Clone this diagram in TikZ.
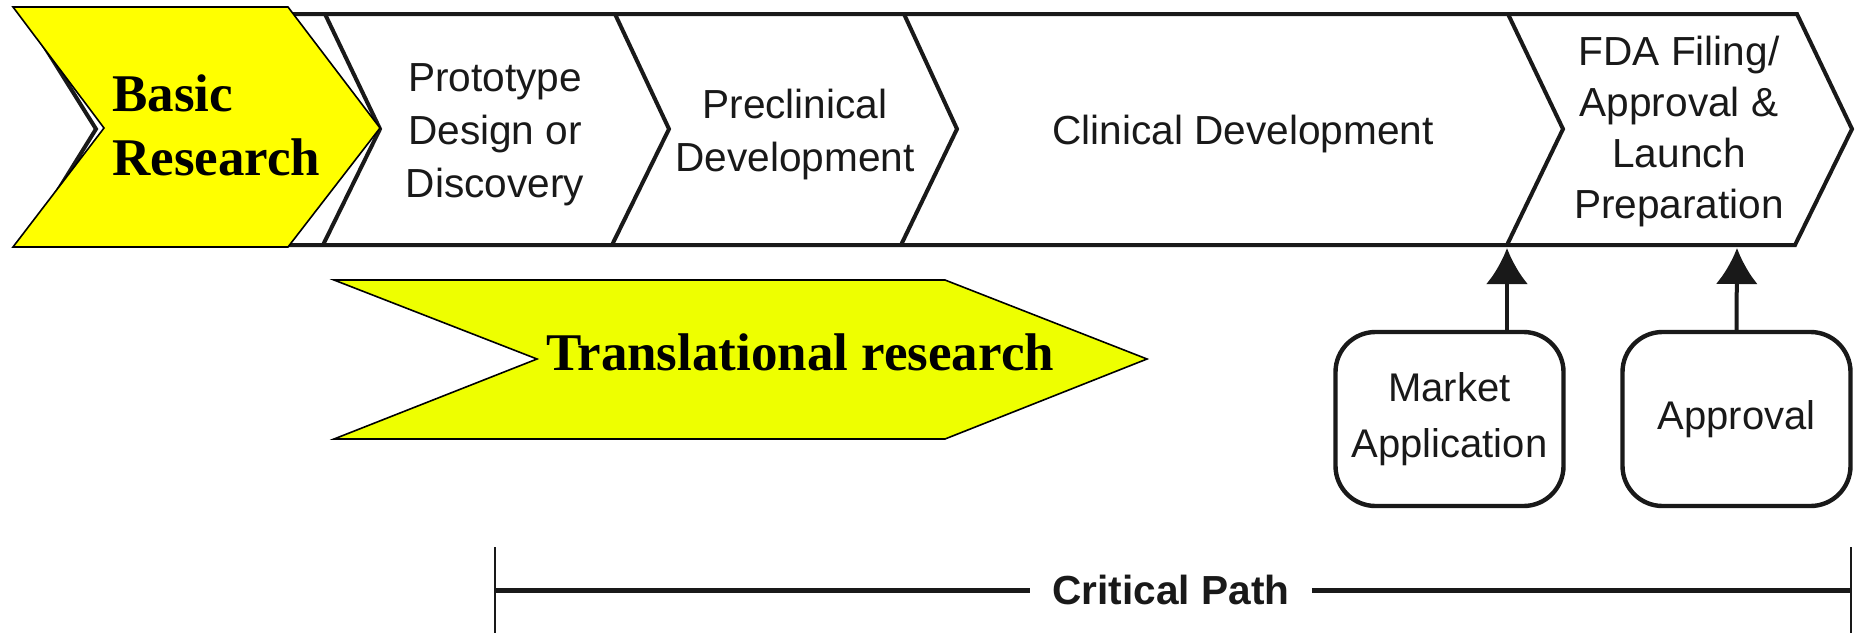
\documentclass[tikz,border=0pt]{standalone}
\usepackage{fontspec}
\setmainfont{Liberation Serif}
\newfontfamily\arialfont{Liberation Sans}
\usetikzlibrary{arrows.meta}
\definecolor{basicyellow}{RGB}{255,255,0}
\definecolor{transyellow}{RGB}{238,255,0}
\definecolor{ink}{gray}{0.1}

\begin{document}
\begin{tikzpicture}[x=0.5pt,y=-0.5pt,
  barline/.style={draw=ink, line width=2pt, line join=miter},
  yellowshape/.style={draw=black, line width=0.8pt, line join=miter},
  stagetext/.style={font=\arialfont\fontsize{20.3}{26.5}\selectfont, text=ink,
    align=center, inner sep=0pt},
  bigtext/.style={font=\bfseries\fontsize{26.5}{32}\selectfont, inner sep=0pt},
  eventbox/.style={draw=ink, line width=2.2pt, rounded corners=20pt,
    minimum width=114pt, minimum height=87pt, inner sep=0pt, align=center,
    font=\arialfont\fontsize{20}{28}\selectfont, text=ink},
  uparrow/.style={draw=ink, line width=2pt, -{Latex[length=18pt,width=21pt]}},
  tickline/.style={draw=ink, line width=1.2pt},
  pathline/.style={draw=ink, line width=2.5pt},
]
\useasboundingbox[fill=white] (0,0) rectangle (1858,633);

% chevron boundaries of the development bar (top, tip, bottom)
\coordinate (b0t) at (24,14);   \coordinate (b0m) at (96,129);   \coordinate (b0b) at (24,245);
\coordinate (b1t) at (325,14);  \coordinate (b1m) at (380,129);  \coordinate (b1b) at (323,245);
\coordinate (b2t) at (615,14);  \coordinate (b2m) at (669,129);  \coordinate (b2b) at (612,245);
\coordinate (b3t) at (904,14);  \coordinate (b3m) at (957,129);  \coordinate (b3b) at (901,245);
\coordinate (b4t) at (1508,14); \coordinate (b4m) at (1563,129); \coordinate (b4b) at (1507,245);
\coordinate (b5t) at (1797,14); \coordinate (b5m) at (1852,129); \coordinate (b5b) at (1795,245);

% outline of the whole bar
\draw[barline] (b0t) -- (b5t) -- (b5m) -- (b5b) -- (b0b) -- (b0m) -- cycle;
% stage separators
\foreach \i in {1,2,3,4}{
  \draw[barline] (b\i t) -- (b\i m) -- (b\i b);
}

% stage labels
\node[stagetext] (proto) at (495,135) {Prototype\\Design or\\Discovery};
\node[stagetext] (precl) at (795,134) {Preclinical\\Development};
\node[stagetext] (clin)  at (1243,134) {Clinical Development};
\node[stagetext, font=\arialfont\fontsize{20.3}{25.5}\selectfont] (fda) at (1679,131)
  {FDA Filing/\\Approval \&\\Launch\\Preparation};

% basic research chevron
\draw[yellowshape, fill=basicyellow]
  (13,7) -- (288,7) -- (380,128) -- (288,247) -- (13,247) -- (104,128) -- cycle;
\node[bigtext, anchor=west, align=left] (basic) at (112,125) {Basic\\Research};

% translational research chevron
\draw[yellowshape, fill=transyellow]
  (334,280) -- (945,280) -- (1147,359) -- (945,439) -- (334,439) -- (537,359) -- cycle;
\node[bigtext, anchor=base] (trans) at (800,370) {Translational research};

% regulatory events
\node[eventbox] (ma) at (1449.5,419) {Market\\Application};
\node[eventbox] (ap) at (1736.5,419) {Approval};
\coordinate (ma-in) at (1507,248);
\coordinate (ap-in) at (1737,248);
\draw[uparrow] (ma.north -| ma-in) -- (ma-in);
\draw[uparrow] (ap.north) -- (ap-in);

% critical path
\coordinate (cpl-top) at (495,547);  \coordinate (cpl-bot) at (495,633);
\coordinate (cpr-top) at (1851,547); \coordinate (cpr-bot) at (1851,633);
\draw[tickline] (cpl-top) -- (cpl-bot);
\draw[tickline] (cpr-top) -- (cpr-bot);
\node[font=\arialfont\bfseries\fontsize{20.3}{24}\selectfont, text=ink,
  inner xsep=11pt, inner ysep=0pt] (cp) at (1171,590) {Critical Path};
\draw[pathline] (cpl-top |- cp) -- (cp.west);
\draw[pathline] (cp.east) -- (cpr-top |- cp);
\end{tikzpicture}
\end{document}
